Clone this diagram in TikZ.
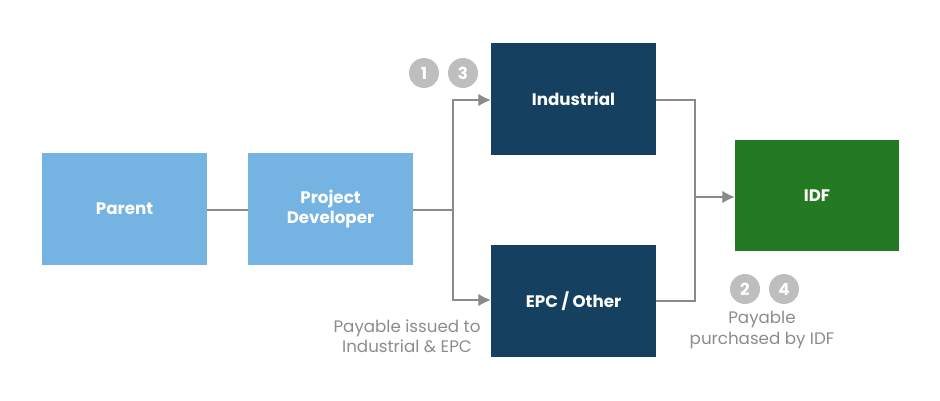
\documentclass[tikz,border=0pt]{standalone}
\usepackage{fontspec}
\setmainfont{Poppins}
\usetikzlibrary{arrows.meta}
\definecolor{lightblue}{HTML}{74B3E2}
\definecolor{navy}{HTML}{154060}
\definecolor{idfgreen}{HTML}{237A23}
\definecolor{badge}{HTML}{BEBEBE}
\definecolor{wire}{HTML}{8A8A8A}
\begin{document}
\begin{tikzpicture}[x=0.02cm, y=-0.02cm, font=\fontsize{9.5}{11.5}\selectfont,
    box/.style={minimum width=3.3cm, minimum height=2.24cm, text=white, font=\fontsize{9.5}{11.5}\selectfont\bfseries, align=center, inner sep=0pt},
    num/.style={circle, fill=badge, text=white, minimum size=0.6cm, inner sep=0pt, font=\fontsize{9.5}{11}\selectfont\bfseries},
    wire/.style={draw=wire, line width=0.6pt},
    tip/.style={-{Latex[length=7pt, width=7pt]}},
    note/.style={text=gray!90, align=center}]
    \useasboundingbox (0,0) rectangle (940,400);

    \node[box, fill=lightblue] (P) at (124.5,209) {Parent};
    \node[box, fill=lightblue] (D) at (330.5,209) {Project\\Developer};
    \node[box, fill=navy] (I) at (573.5,99) {Industrial};
    \node[box, fill=navy] (E) at (573.5,301) {EPC / Other};
    \node[box, fill=idfgreen, minimum width=3.28cm, minimum height=2.22cm] (F) at (817,195.5) {IDF};

    \coordinate (L) at (453,210);
    \coordinate (R) at (695,197);

    \draw[wire] (P.east |- 0,210) -- (D.west |- 0,210);
    \draw[wire] (D.east |- L) -- (L);
    \draw[wire, tip] (L) |- (I.west |- 0,100);
    \draw[wire, tip] (L) |- (E.west |- 0,300);

    \draw[wire] (I.east |- 0,100) -| (R);
    \draw[wire] (E.east |- 0,301) -| (R);
    \draw[wire, tip] (R) -- (F.west |- R);

    \node[num] (n1) at (424,73) {1};
    \node[num] (n3) at (463,73) {3};
    \node[num] (n2) at (745,289) {2};
    \node[num] (n4) at (784,289) {4};

    \node[note] (pi) at (407,336) {Payable issued to\\Industrial \& EPC};
    \node[note] (pp) at (762,330) {Payable\\purchased by IDF};
\end{tikzpicture}
\end{document}
